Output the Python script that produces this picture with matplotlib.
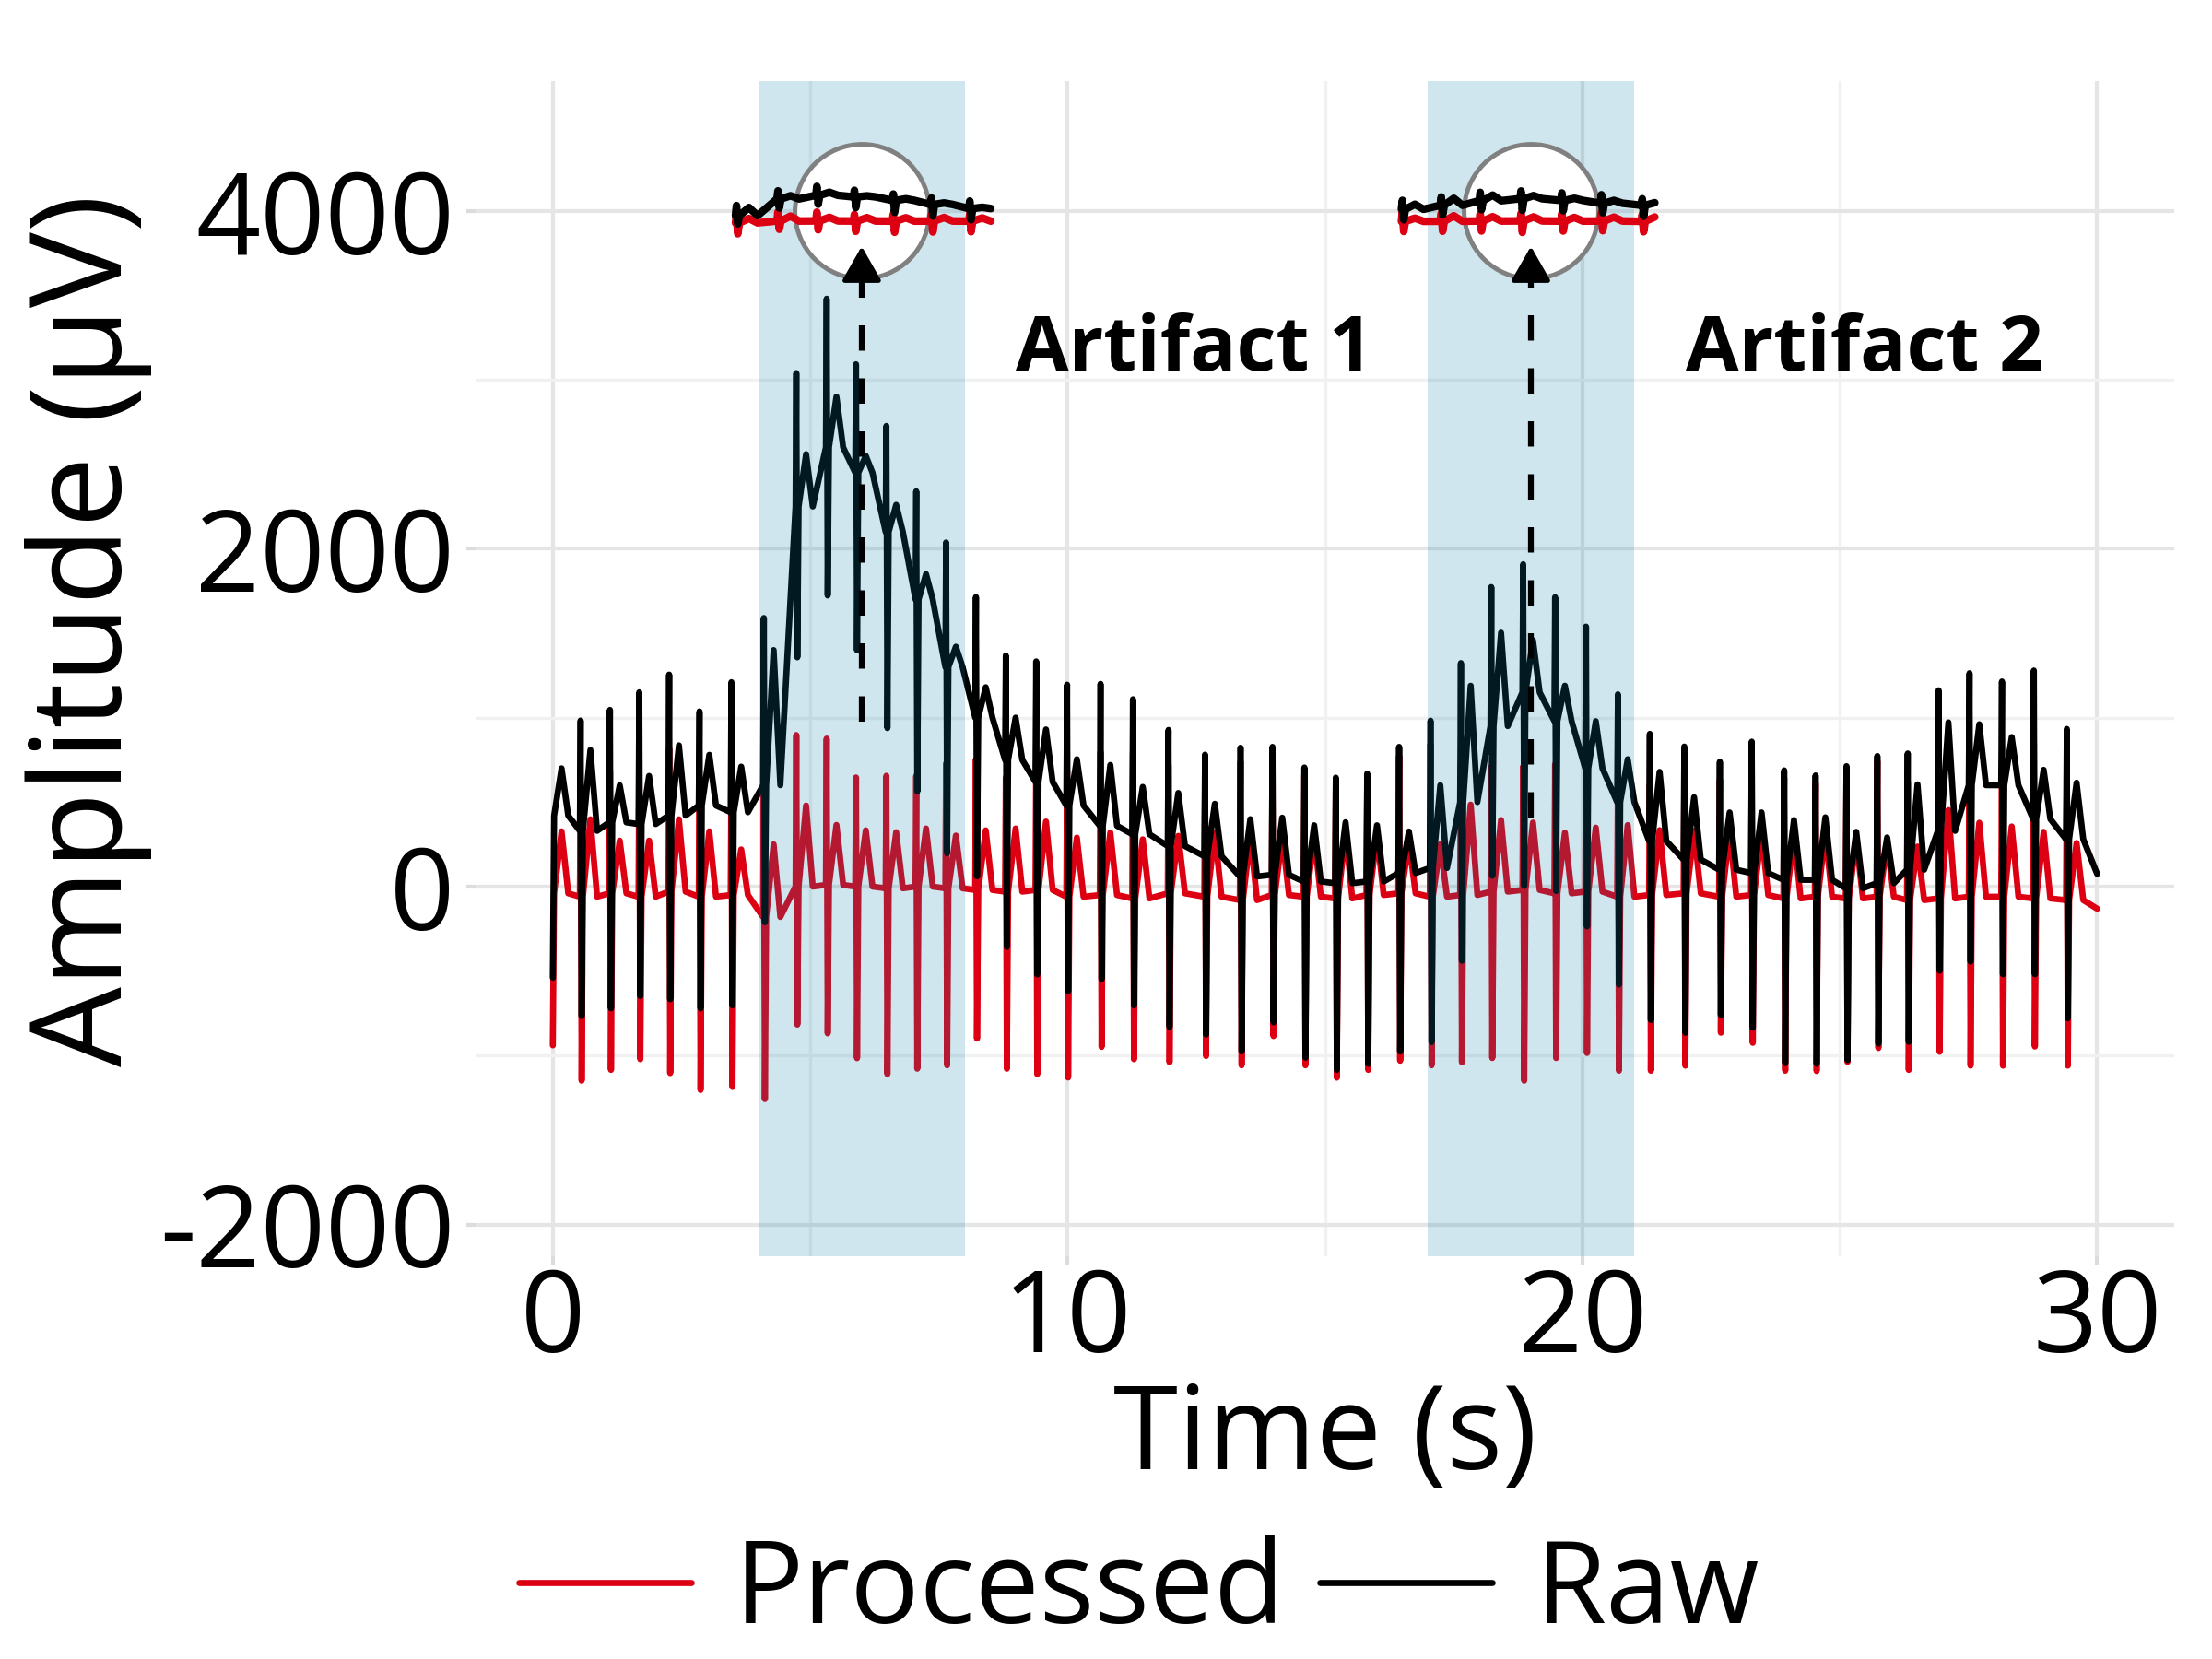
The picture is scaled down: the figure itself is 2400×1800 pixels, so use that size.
import numpy as np
import matplotlib
matplotlib.use("Agg")
import matplotlib.pyplot as plt

plt.rcParams["font.family"] = ["Open Sans", "DejaVu Sans"]
plt.rcParams["axes.unicode_minus"] = False

# beat timing (S-wave trough time, s)
beat_s = [0.00, 0.56, 1.13, 1.70, 2.28, 2.87, 3.49, 4.12, 4.75, 5.34, 5.91, 6.50, 7.08,
          7.66, 8.24, 8.82, 9.41, 10.01, 10.66, 11.29, 11.98, 12.69, 13.38, 14.00, 14.62,
          15.23, 15.84, 16.46, 17.07, 17.66, 18.25, 18.87, 19.49, 20.09, 20.71, 21.33,
          22.00, 22.69, 23.31, 23.94, 24.55, 25.15, 25.75, 26.34, 26.94, 27.54, 28.17,
          28.79, 29.43]

# raw signal, per beat (uV)
raw_base = [420, 330, 380, 370, 420, 480, 440, 600,
            2250, 2600, 2450, 2100, 1700, 1300, 1000, 750, 620,
            480, 360, 310, 240, 180, 60, 70, 30, 20, 30, 80, 110,
            500, 950, 1150, 980, 700, 500, 270, 160, 100, 80, 40,
            40, -10, 20, 100, 330, 600, 600, 400, 280]
raw_r = [np.nan, 983, 1046, 1150, 1255, 1037, 1210, 1590, 3040, 3480, 3092, 2727, 2340,
         2037, 1714, 1368, 1333, 1195, 1200, 1109, 927, 781, 822, 827, 705, 645, 669,
         827, 982, 1323, 1773, 1908, 1713, 1539, 1138, 904, 829, 739, 858, 688, 658,
         713, 773, 788, 1162, 1263, 1214, 1279, 933]
raw_s = [-539, -767, -721, -648, -667, -721, -703, -211, 1357, 1723, 1399, 938, 563, 197,
         61, -357, -520, -619, -548, -703, -831, -876, -976, -803, -1013, -1085, -1049,
         -976, -921, -439, 64, 4, -26, -236, -580, -790, -865, -760, -835, -1045, -1049,
         -1027, -930, -919, -498, -444, -519, -519, -779]
raw_t = [700, 809, 600, 655, 836, 780, 710, 1400,
         2560, 2900, 2550, 2260, 1850, 1420, 1180, 1000, 930,
         754, 720, 590, 554, 490, 399, 408, 363, 381, 363, 326, 600,
         1189, 1503, 1458, 1189, 979, 754, 679, 529, 439, 439, 394,
         410, 324, 291, 605, 972, 961, 885, 691, 615]
raw_end = 75

# processed signal, per beat (uV)
proc_base = [-40, -60, -40, -60, -30, -60, -50, -180,
             0, 10, 0, -10, 0, -10, -20, -30, -20,
             -60, -50, -70, -40, -60, -80, -50, -60, -70, -50, -40, -60,
             -50, -30, -20, -40, -30, -60, -50, -40, -60, -50, -70,
             -60, -70, -60, -80, -70, -60, -60, -70, -80]
proc_r = [np.nan, 601, 682, 776, 818, 554, 727, 543, 897, 876, 646, 656, 656, 730, 753,
          647, 743, 684, 799, 790, 718, 654, 740, 745, 660, 599, 633, 772, 845, 722, 709,
          712, 724, 790, 628, 604, 634, 634, 768, 643, 613, 683, 743, 622, 682, 647, 673,
          851, 652]
proc_s = [-940, -1149, -1085, -1022, -1104, -1204, -1186, -1258, -817, -869, -1016, -1110,
          -1078, -1058, -900, -1078, -1110, -1130, -949, -1022, -1040, -1003, -1058, -885,
          -1058, -1131, -1085, -1031, -1058, -1040, -1015, -1149, -1015, -985, -1090,
          -1090, -1060, -865, -925, -1090, -1092, -1038, -956, -1085, -978, -1060, -1060,
          -947, -1060]
proc_t = [327, 398, 272, 272, 398, 327, 220, 250,
          480, 365, 333, 322, 344, 302, 333, 344, 385,
          290, 320, 280, 300, 320, 300, 300, 300, 320, 310, 270, 250,
          485, 394, 379, 319, 349, 364, 334, 330, 330, 320, 310,
          320, 282, 260, 237, 453, 378, 356, 324, 258]
proc_end = -131

t_end = 30.0
artifacts = [(4, 8), (17, 21)]
artifact_labels = ["Artifact 1", "Artifact 2"]
arrow_start = [975, 410]

RED = "#dc0012"
SPAN = "#1482af"


def build_trace(base, r, s, tw, end_val):
    ts_all, vs_all = [], []
    for k, ts in enumerate(beat_s):
        seq = [(ts - 0.035, base[k]), (ts - 0.02, r[k]), (ts, s[k]),
               (ts + 0.025, base[k]), (ts + 0.17, tw[k]), (ts + 0.30, base[k])]
        for t, v in seq:
            if t >= 0 and not np.isnan(v):
                ts_all.append(t)
                vs_all.append(v)
    ts_all.append(t_end)
    vs_all.append(end_val)
    return np.array(ts_all), np.array(vs_all, dtype=float)


t_raw, v_raw = build_trace(raw_base, raw_r, raw_s, raw_t, raw_end)
t_proc, v_proc = build_trace(proc_base, proc_r, proc_s, proc_t, proc_end)

fig = plt.figure(figsize=(8, 6), dpi=300)
ax = fig.add_axes([0.215, 0.243, 0.768, 0.708])

l_proc, = ax.plot(t_proc, v_proc, color=RED, lw=1.6, zorder=2,
                  solid_joinstyle="round", solid_capstyle="round", label="Processed")
l_raw, = ax.plot(t_raw, v_raw, color="black", lw=1.6, zorder=2.1,
                 solid_joinstyle="round", solid_capstyle="round", label="Raw")

for (a, b), lab, y_start in zip(artifacts, artifact_labels, arrow_start):
    c = (a + b) / 2
    ax.axvspan(a, b, color=SPAN, alpha=0.2, lw=0, zorder=3)
    # magnifier circle + mini traces
    ax.plot(c, 4000, "o", ms=35, mfc="white", mec="#808080", mew=1.2, zorder=4)
    for tt, vv, col, y0 in [(t_proc, v_proc, RED, 3940), (t_raw, v_raw, "black", 4060)]:
        m = (tt >= a) & (tt <= b)
        xs = c + (tt[m] - c) * 1.28
        ys = y0 + 0.06 * (vv[m] - np.median(vv[m]))
        ax.plot(xs, ys, color=col, lw=2.0, zorder=5,
                solid_joinstyle="round", solid_capstyle="round")
    ax.plot([c, c], [y_start, 3650], color="black", lw=1.5, dashes=(4.4, 4.8), zorder=6)
    ax.annotate("", xy=(c, 3790), xytext=(c, 3640),
                arrowprops=dict(arrowstyle="-|>,head_length=0.35,head_width=0.2",
                                color="black", lw=1.2, mutation_scale=22,
                                shrinkA=0, shrinkB=0), zorder=6)
    ax.text(b + 1.0, 3170, lab, fontsize=20, fontweight="bold", ha="left",
            va="center", zorder=6)

ax.set_xlim(-1.5, 31.5)
ax.set_ylim(-2186, 4767)
ax.set_xticks([0, 10, 20, 30])
ax.set_xticks([5, 15, 25], minor=True)
ax.set_yticks([-2000, 0, 2000, 4000])
ax.set_yticks([-1000, 1000, 3000], minor=True)
ax.set_axisbelow(True)
ax.grid(which="major", color="#e5e5e5", lw=1.0)
ax.grid(which="minor", color="#f1f1f1", lw=0.8)
for sp in ax.spines.values():
    sp.set_visible(False)
ax.tick_params(which="major", length=2.4, width=1.0, color="#dcdcdc", labelsize=29.5)
ax.tick_params(axis="y", which="major", pad=3)
ax.tick_params(axis="x", which="major", pad=0.2)
ax.tick_params(which="minor", length=0)

ax.set_xlabel("Time (s)", fontsize=30.5, labelpad=0.5)
ax.set_ylabel("Amplitude (μV)", fontsize=33, labelpad=2)
ax.yaxis.label.set_y(0.533)

fig.legend([l_proc, l_raw], ["Processed", "Raw"], loc="center",
           bbox_to_anchor=(0.515, 0.04), ncol=2, frameon=False, fontsize=30,
           handlelength=1.5, handletextpad=0.37, columnspacing=0.3)

fig.savefig("out.png", dpi=300)
